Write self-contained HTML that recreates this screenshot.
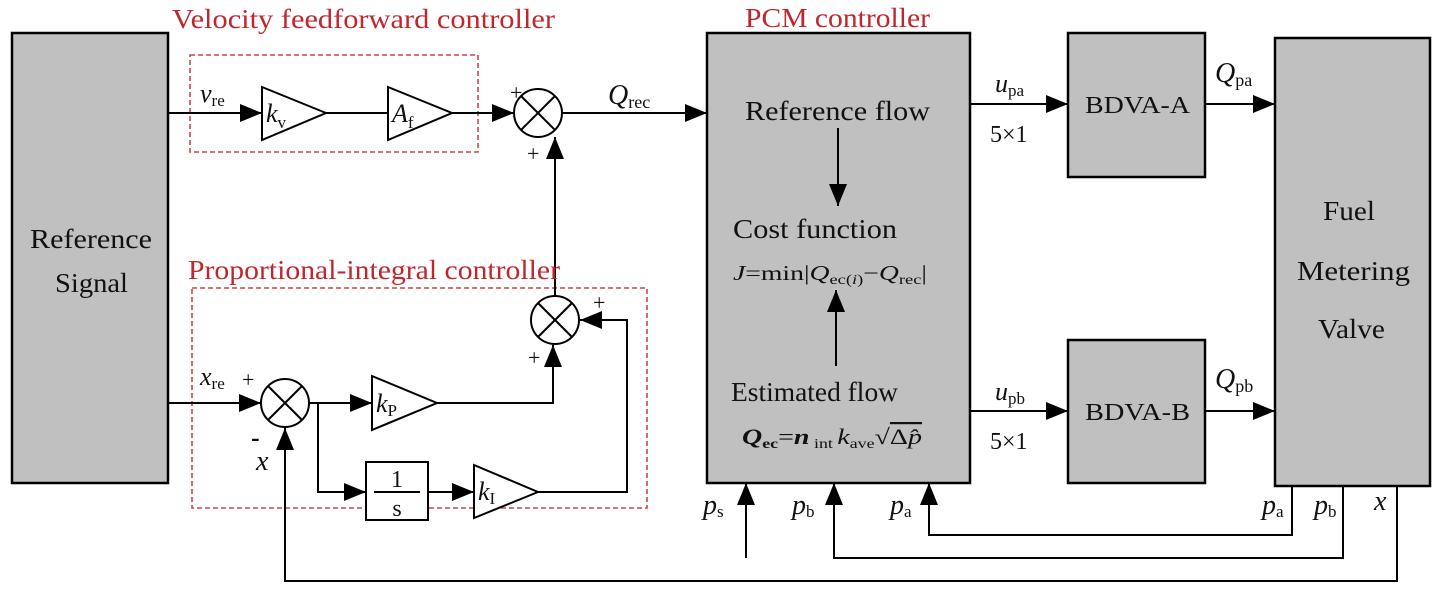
<!DOCTYPE html>
<html><head><meta charset="utf-8"><style>
html,body{margin:0;padding:0;background:#fff;}
svg{display:block;}
text{font-family:"Liberation Serif",serif;fill:#111;}
.r{fill:#c0272d;}
</style></head><body>
<svg width="1433" height="593" viewBox="0 0 1433 593" xmlns="http://www.w3.org/2000/svg">
<defs>
<marker id="b" viewBox="0 0 10 10" refX="10" refY="5" markerWidth="22" markerHeight="18" markerUnits="userSpaceOnUse" orient="auto" preserveAspectRatio="none"><path d="M0,0 L10,5 L0,10z" fill="#000"/></marker>
</defs>
<g stroke="#000" stroke-width="2.5" fill="none">
<rect x="12" y="33" width="156" height="450" fill="#c0c0c0"/>
<rect x="707" y="33" width="263" height="450" fill="#c0c0c0"/>
<rect x="1068" y="33" width="137" height="144" fill="#c0c0c0"/>
<rect x="1068" y="340" width="137" height="143" fill="#c0c0c0"/>
<rect x="1275" y="38" width="155" height="448" fill="#c0c0c0"/>
</g>
<g stroke="#d0444a" stroke-width="1.6" fill="none" stroke-dasharray="5,3">
<rect x="190" y="55" width="288" height="97"/>
<rect x="192" y="288" width="455" height="220"/>
</g>
<g stroke="#000" stroke-width="2" fill="none">
<line x1="168" y1="113" x2="262" y2="113" marker-end="url(#b)"/>
<polygon points="262,87 326,113 262,140" fill="#fff"/>
<line x1="326" y1="113" x2="388" y2="113"/>
<polygon points="388,87 452,113 388,140" fill="#fff"/>
<line x1="452" y1="113" x2="514" y2="113" marker-end="url(#b)"/>
<ellipse cx="538" cy="113" rx="24" ry="24" fill="#fff"/>
<line x1="521" y1="96" x2="555" y2="130"/><line x1="555" y1="96" x2="521" y2="130"/>
<line x1="562" y1="113" x2="707" y2="113" marker-end="url(#b)"/>
<ellipse cx="555" cy="320" rx="24" ry="24" fill="#fff"/>
<line x1="538" y1="303" x2="572" y2="337"/><line x1="572" y1="303" x2="538" y2="337"/>
<line x1="555" y1="296" x2="555" y2="137" marker-end="url(#b)"/>
<line x1="168" y1="403" x2="261" y2="403" marker-end="url(#b)"/>
<ellipse cx="285" cy="403" rx="24" ry="24" fill="#fff"/>
<line x1="268" y1="386" x2="302" y2="420"/><line x1="302" y1="386" x2="268" y2="420"/>
<line x1="309" y1="403" x2="372" y2="403" marker-end="url(#b)"/>
<polygon points="372,376 437,403 372,430" fill="#fff"/>
<polyline points="437,403 553,403 553,345" marker-end="url(#b)"/>
<polyline points="318,403 318,492 366,492" marker-end="url(#b)"/>
<rect x="366" y="462" width="62" height="58" fill="#fff"/>
<line x1="374" y1="492" x2="420" y2="492"/>
<line x1="428" y1="492" x2="474" y2="492" marker-end="url(#b)"/>
<polygon points="474,465 538,492 474,518" fill="#fff"/>
<polyline points="538,492 627,492 627,320 580,320" marker-end="url(#b)"/>
<polyline points="1397,486 1397,581 285,581 285,428" marker-end="url(#b)"/>
<line x1="838" y1="128" x2="838" y2="206" marker-end="url(#b)"/>
<line x1="836" y1="366" x2="836" y2="290" marker-end="url(#b)"/>
<line x1="970" y1="104" x2="1068" y2="104" marker-end="url(#b)"/>
<line x1="1205" y1="104" x2="1275" y2="104" marker-end="url(#b)"/>
<line x1="970" y1="411" x2="1068" y2="411" marker-end="url(#b)"/>
<line x1="1205" y1="411" x2="1275" y2="411" marker-end="url(#b)"/>
<polyline points="1292,486 1292,535 929,535 929,483" marker-end="url(#b)"/>
<polyline points="1343,486 1343,558 834,558 834,483" marker-end="url(#b)"/>
<line x1="746" y1="558" x2="746" y2="483" marker-end="url(#b)"/>
</g>
<text x="172" y="28" font-size="27" class="r" textLength="383" lengthAdjust="spacingAndGlyphs">Velocity feedforward controller</text>
<text x="188" y="279" font-size="27" class="r" textLength="372" lengthAdjust="spacingAndGlyphs">Proportional-integral controller</text>
<text x="745" y="27" font-size="27" class="r" textLength="185" lengthAdjust="spacingAndGlyphs">PCM controller</text>
<text x="30" y="248" font-size="27" textLength="122" lengthAdjust="spacingAndGlyphs">Reference</text>
<text x="55" y="292" font-size="27" textLength="73" lengthAdjust="spacingAndGlyphs">Signal</text>
<text x="200" y="102" font-size="26" font-style="italic">v<tspan font-size="17" font-style="normal" dy="4">re</tspan></text>
<text x="266" y="122" font-size="26" font-style="italic">k<tspan font-size="17" font-style="normal" dy="6">v</tspan></text>
<text x="392" y="122" font-size="26" font-style="italic">A<tspan font-size="17" font-style="normal" dy="6">f</tspan></text>
<text x="510" y="100" font-size="22">+</text>
<text x="527" y="161" font-size="22">+</text>
<text x="608" y="104" font-size="28" font-style="italic">Q<tspan font-size="18" font-style="normal" dy="4">rec</tspan></text>
<text x="593" y="310" font-size="22">+</text>
<text x="528" y="365" font-size="22">+</text>
<text x="200" y="385" font-size="26" font-style="italic">x<tspan font-size="17" font-style="normal" dy="4">re</tspan></text>
<text x="242" y="387" font-size="22">+</text>
<text x="251" y="446" font-size="26" font-weight="bold">-</text>
<text x="256" y="470" font-size="28" font-style="italic">x</text>
<text x="376" y="412" font-size="26" font-style="italic">k<tspan font-size="17" font-style="normal" dy="4">P</tspan></text>
<text x="478" y="500" font-size="26" font-style="italic">k<tspan font-size="17" font-style="normal" dy="4">I</tspan></text>
<text x="397" y="487" font-size="24" text-anchor="middle">1</text>
<text x="397" y="516" font-size="24" text-anchor="middle">s</text>
<text x="745" y="120" font-size="27" textLength="185" lengthAdjust="spacingAndGlyphs">Reference flow</text>
<text x="733" y="238" font-size="27" textLength="164" lengthAdjust="spacingAndGlyphs">Cost function</text>
<text x="733" y="280" font-size="21" textLength="194" lengthAdjust="spacingAndGlyphs"><tspan font-style="italic">J</tspan>=min|<tspan font-style="italic">Q</tspan><tspan font-size="14" dy="4">ec(<tspan font-style="italic">i</tspan>)</tspan><tspan dy="-4">−</tspan><tspan font-style="italic">Q</tspan><tspan font-size="14" dy="4">rec</tspan><tspan dy="-4">|</tspan></text>
<text x="731" y="401" font-size="27" textLength="167" lengthAdjust="spacingAndGlyphs">Estimated flow</text>
<text x="742" y="444" font-size="22" textLength="180" lengthAdjust="spacingAndGlyphs"><tspan font-weight="bold" font-style="italic">Q</tspan><tspan font-weight="bold" font-size="14" dy="4">ec</tspan><tspan dy="-4">=</tspan><tspan font-weight="bold" font-style="italic">n</tspan><tspan font-size="14" dy="4"> int </tspan><tspan dy="-4" font-style="italic">k</tspan><tspan font-size="14" dy="4">ave</tspan><tspan dy="-4">√</tspan><tspan text-decoration="overline">Δ<tspan font-style="italic">p̂</tspan></tspan></text>
<text x="995" y="92" font-size="26" font-style="italic">u<tspan font-size="17" font-style="normal" dy="4">pa</tspan></text>
<text x="990" y="142" font-size="24">5×1</text>
<text x="995" y="400" font-size="26" font-style="italic">u<tspan font-size="17" font-style="normal" dy="4">pb</tspan></text>
<text x="990" y="449" font-size="24">5×1</text>
<text x="1085" y="113" font-size="24" textLength="105" lengthAdjust="spacingAndGlyphs">BDVA-A</text>
<text x="1085" y="420" font-size="24" textLength="105" lengthAdjust="spacingAndGlyphs">BDVA-B</text>
<text x="1215" y="82" font-size="28" font-style="italic">Q<tspan font-size="18" font-style="normal" dy="4">pa</tspan></text>
<text x="1215" y="388" font-size="28" font-style="italic">Q<tspan font-size="18" font-style="normal" dy="4">pb</tspan></text>
<text x="1323" y="220" font-size="27" textLength="52" lengthAdjust="spacingAndGlyphs">Fuel</text>
<text x="1297" y="280" font-size="27" textLength="113" lengthAdjust="spacingAndGlyphs">Metering</text>
<text x="1318" y="338" font-size="27" textLength="67" lengthAdjust="spacingAndGlyphs">Valve</text>
<text x="703" y="514" font-size="28" font-style="italic">p<tspan font-size="17" font-style="normal" dy="3">s</tspan></text>
<text x="792" y="514" font-size="28" font-style="italic">p<tspan font-size="17" font-style="normal" dy="3">b</tspan></text>
<text x="890" y="514" font-size="28" font-style="italic">p<tspan font-size="17" font-style="normal" dy="3">a</tspan></text>
<text x="1262" y="514" font-size="28" font-style="italic">p<tspan font-size="17" font-style="normal" dy="3">a</tspan></text>
<text x="1314" y="514" font-size="28" font-style="italic">p<tspan font-size="17" font-style="normal" dy="3">b</tspan></text>
<text x="1374" y="510" font-size="28" font-style="italic">x</text>
</svg>
</body></html>
